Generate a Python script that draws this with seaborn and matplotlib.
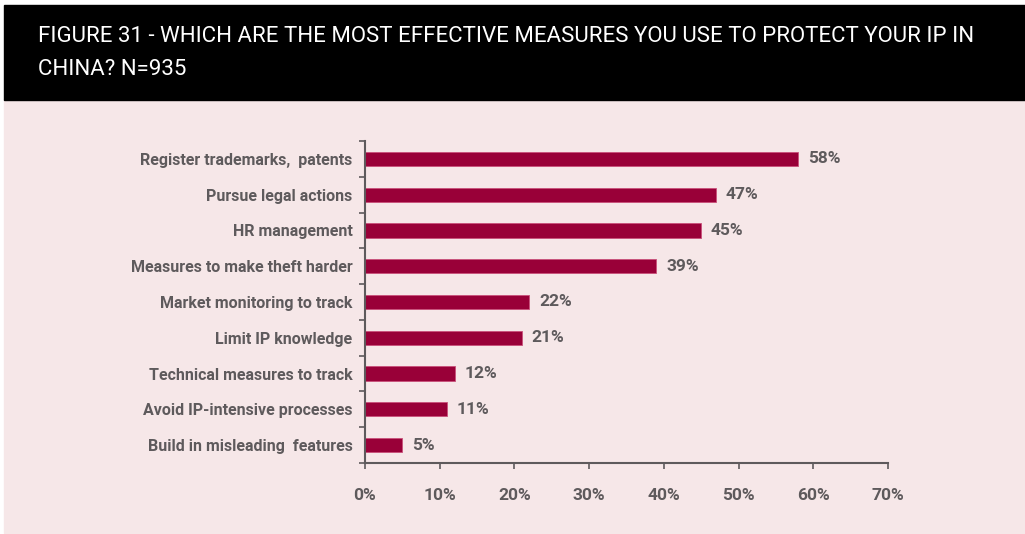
import numpy as np
import pandas as pd
import matplotlib
matplotlib.use("Agg")
import matplotlib.pyplot as plt
import seaborn as sns

measures = [
    "Register trademarks,  patents",
    "Pursue legal actions",
    "HR management",
    "Measures to make theft harder",
    "Market monitoring to track",
    "Limit IP knowledge",
    "Technical measures to track",
    "Avoid IP-intensive processes",
    "Build in misleading  features",
]
shares = [58, 47, 45, 39, 22, 21, 12, 11, 5]
x_ticks = [0, 10, 20, 30, 40, 50, 60, 70]
title = "FIGURE 31 - WHICH ARE THE MOST EFFECTIVE MEASURES YOU USE TO PROTECT YOUR IP IN\nCHINA? N=935"

BAR = "#990038"
BG = "#F6E7E8"
GREY = "#5E5A5C"

sns.set_theme(style="white")
plt.rcParams["font.family"] = ["Roboto", "DejaVu Sans"]

df = pd.DataFrame({"measure": measures, "share": shares})

fig = plt.figure(figsize=(10.25, 5.34), dpi=100)
fig.patch.set_facecolor("white")

# pink panel + black title band (behind the axes)
fig.patches.append(plt.Rectangle((4 / 1025, 0.002), 1 - 4 / 1025, (534 - 100) / 534,
                                 transform=fig.transFigure, color=BG, zorder=-10))
fig.patches.append(plt.Rectangle((4 / 1025, (534 - 100) / 534), 1 - 4 / 1025, 95 / 534,
                                 transform=fig.transFigure, color="black", zorder=-10))
fig.text(38 / 1025, (534 - 53) / 534, title, color="white", fontsize=16,
         va="center", ha="left", linespacing=1.75)

ax = fig.add_axes([365 / 1025, (534 - 463) / 534, (888 - 365) / 1025, (463 - 141) / 534])
ax.set_facecolor("none")
sns.barplot(data=df, y="measure", x="share", orient="h", color=BAR,
            width=0.4, edgecolor="#C9507A", linewidth=0.6, saturation=1, ax=ax)

ax.bar_label(ax.containers[0], labels=[f"{v}%" for v in shares], padding=7,
             color=GREY, fontsize=12.5, fontweight="bold")

ax.set_xlim(0, 70)
ax.set_ylim(len(measures) - 0.5, -0.5)
ax.set_xticks(x_ticks)
ax.set_xticklabels([f"{t}%" for t in x_ticks], color=GREY, fontsize=12.5, fontweight="bold")
ax.set_yticks(range(len(measures)))
ax.set_yticklabels(measures, color=GREY, fontsize=11.5, fontweight="bold")
ax.set_yticks(np.arange(-0.5, len(measures), 1), minor=True)
ax.tick_params(axis="y", which="major", length=0, pad=9)
ax.tick_params(axis="y", which="minor", length=4, width=1.2, color=GREY, left=True)
ax.tick_params(axis="x", length=4, width=1.2, color=GREY, pad=14, bottom=True)
ax.set_xlabel("")
ax.set_ylabel("")

for side in ["top", "right"]:
    ax.spines[side].set_visible(False)
for side in ["left", "bottom"]:
    ax.spines[side].set_color(GREY)
    ax.spines[side].set_linewidth(1.5)

fig.savefig("out.png", dpi=100, facecolor=fig.get_facecolor())
